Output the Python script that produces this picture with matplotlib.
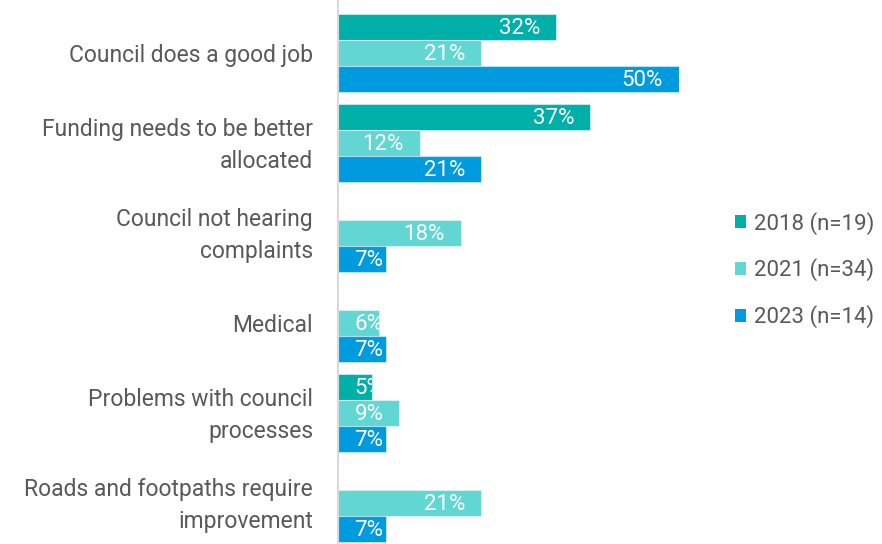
import numpy as np
import matplotlib.pyplot as plt
from matplotlib.patches import Patch
from matplotlib.transforms import ScaledTranslation

plt.rcParams['font.family'] = ['Roboto', 'DejaVu Sans']

categories = [
    'Council does a good job',
    'Funding needs to be better\nallocated',
    'Council not hearing\ncomplaints',
    'Medical',
    'Problems with council\nprocesses',
    'Roads and footpaths require\nimprovement',
]
series_names = ['2018 (n=19)', '2021 (n=34)', '2023 (n=14)']
vals_2018 = [32, 37, np.nan, np.nan, 5, np.nan]
vals_2021 = [21, 12, 18, 6, 9, 21]
vals_2023 = [50, 21, 7, 7, 7, 7]
colors = ['#00B0A8', '#62D6D3', '#009BDE']

grey = '#595959'
fs = 16
pad_px = 16

fig = plt.figure(figsize=(8.82, 5.44), dpi=100)
ax = fig.add_axes([338 / 882, 0, 341 / 882, 1])

bar_h = 26 / 90
y = np.arange(len(categories))

labels = []
for i, (vals, col) in enumerate(zip([vals_2018, vals_2021, vals_2023], colors)):
    pos = y + (i - 1) * bar_h
    for yy, v in zip(pos, vals):
        if np.isnan(v):
            continue
        bar = ax.barh(yy, v, height=bar_h, color=col,
                      edgecolor=(1, 1, 1, 0.45), linewidth=0.8)[0]
        t = ax.annotate(f'{v:.0f}%', xy=(v, yy), xytext=(-pad_px * 0.72, -1),
                        textcoords='offset points', ha='right', va='center',
                        color='white', fontsize=fs)
        t.set_clip_path(bar)
        labels.append((t, yy))

ax.set_xlim(0, 50)
ax.set_ylim((544 - 53) / 90, -53 / 90)
ax.set_yticks(y)
ax.set_yticklabels(categories, color=grey, fontsize=16.5, linespacing=1.5,
                   va='center')
ax.tick_params(axis='y', length=0, pad=18)
ax.set_xticks([])
nudge = ScaledTranslation(0, -2.5 / 100, fig.dpi_scale_trans)
for lab in ax.get_yticklabels():
    lab.set_transform(lab.get_transform() + nudge)
for s in ['top', 'right', 'bottom']:
    ax.spines[s].set_visible(False)
ax.spines['left'].set_color('#D9D9D9')
ax.spines['left'].set_linewidth(1.5)

# short bars: keep the label from starting before the axis line
fig.canvas.draw()
ax_left = ax.get_window_extent().x0
for t, yy in labels:
    if t.get_window_extent().x0 < ax_left + pad_px:
        t.xy = (0, yy)
        t.set_position((pad_px * 0.72, -1))
        t.set_ha('left')

handles = [Patch(facecolor=c, edgecolor='none') for c in colors]
leg = fig.legend(handles, series_names, loc='center left',
                 bbox_to_anchor=(715 / 882, 1 - 270 / 544), frameon=False,
                 fontsize=fs, labelcolor=grey, handlelength=0.5,
                 handleheight=0.5, handletextpad=0.35, labelspacing=1.08)

fig.savefig('out.png', dpi=100)
